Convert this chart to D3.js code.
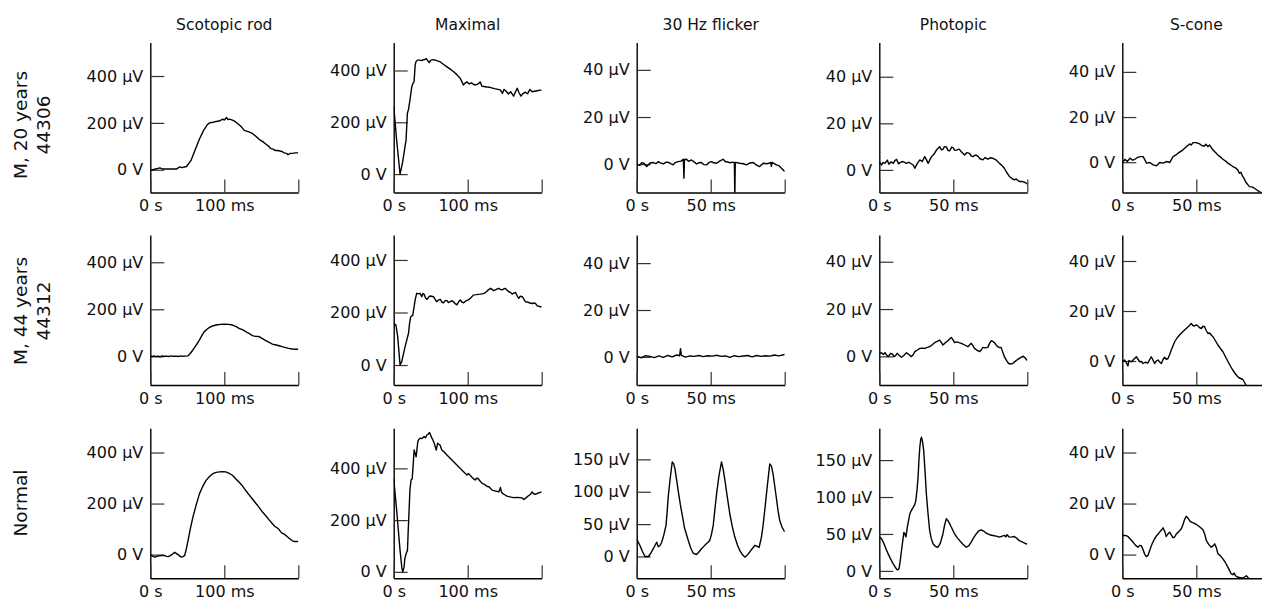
<!DOCTYPE html>
<html>
  <head>
    <meta charset="utf-8">
    <title>ERG traces</title>
    <script src="https://cdn.jsdelivr.net/npm/d3@7/dist/d3.min.js"></script>
    <style>
      body { margin: 0; background: #fff; }
      text { font-family: "DejaVu Sans", sans-serif; fill: #111; }
    </style>
  </head>
  <body>
    <svg id="chart" width="1262" height="601"></svg>
    <script>
      // column titles / row labels
      var colTitles = ["Scotopic rod", "Maximal", "30 Hz flicker", "Photopic", "S-cone"];
      var rowLabels = [["M, 20 years", "44306"], ["M, 44 years", "44312"], ["Normal"]];

      // time axis (ms) per column
      var xMax = [200, 200, 100, 100, 100];
      var xTicks = [[0, 100, 200], [0, 100, 200], [0, 50, 100], [0, 50, 100], [0, 50, 100]];
      var xTickLabels = [["0 s", "100 ms", ""], ["0 s", "100 ms", ""], ["0 s", "50 ms", ""], ["0 s", "50 ms", ""], ["0 s", "50 ms", ""]];

      // voltage ticks (µV) per row, per column
      var yTicks = [
        [[0, 200, 400], [0, 200, 400], [0, 20, 40], [0, 20, 40], [0, 20, 40]],
        [[0, 200, 400], [0, 200, 400], [0, 20, 40], [0, 20, 40], [0, 20, 40]],
        [[0, 200, 400], [0, 200, 400], [0, 50, 100, 150], [0, 50, 100, 150], [0, 20, 40]]
      ];
      // y range (µV) of each panel
      var yDomains = [
        [[-97, 543], [-71, 508], [-12, 51.6], [-9.7, 54.7], [-13.4, 53]],
        [[-122, 516], [-76, 495], [-12, 52], [-12.1, 51.3], [-9.6, 50.4]],
        [[-93, 495], [-25, 555], [-33.7, 198], [-10, 193], [-9.3, 49.5]]
      ];

      // traces: [ms, µV]
      var scotopicA = [[0,-3],[6,2],[13,8],[17,3],[22,3],[30,3],[35,3],[40,12],[43,9],[46,12],[49,14],[55,40],[60,80],[66,128],[72,168],[77,192],[80,200],[85,203],[89,206],[93,208],[98,216],[100,212],[103,223],[105,214],[107,216],[111,212],[115,205],[120,192],[124,180],[127,168],[133,162],[138,155],[143,142],[147,130],[152,120],[156,110],[160,100],[163,90],[166,88],[169,82],[172,82],[175,80],[178,78],[181,72],[184,70],[186,64],[189,70],[192,70],[196,72],[200,72]];
      var maximalA = [[0,263],[4,130],[8.6,0],[12,45],[16.7,132],[18.5,235],[20,250],[22,286],[24.4,337],[26,350],[27.5,356],[29,420],[30,433],[32,440],[35,440],[38,438],[40,442],[42,442],[44,446],[46,438],[48,430],[50,440],[54,442],[58,438],[63,433],[68,422],[72,414],[77,404],[81,395],[86,382],[90,369],[93,352],[94,344],[96,350],[99,356],[102,348],[105,352],[108,346],[111,344],[114,348],[117,356],[119,340],[122,338],[126,336],[130,335],[136,330],[141,327],[144,325],[147,312],[149,327],[152,320],[155,309],[158,318],[162,301],[165,320],[167,331],[169,316],[172,301],[175,312],[178,316],[181,310],[184,327],[187,318],[190,320],[194,322],[198,324],[200,324]];
      var flickerA = [[0,0],[2,-0.5],[3.4,0.7],[5,0.3],[6.7,-1],[9,0.5],[11.2,0.7],[13,0.2],[14.6,1.1],[16,0.6],[18,0.1],[20,0.9],[21.3,0.8],[23,0.2],[24.7,-0.3],[26,0.7],[28,1.1],[30,1.3],[31.5,2.1],[31.9,-6],[32.3,2],[33.7,2.1],[35,1.2],[37,1.8],[39,0.9],[40.4,0.1],[42,0.6],[43.8,0.7],[45.5,-0.2],[47.2,-0.3],[49,0.8],[50.6,1.1],[52,0.6],[54,0.4],[56,1.3],[58.4,2.1],[60,1],[60.7,1.1],[63,0.6],[65,0.9],[66,0.6],[66.3,-14],[66.6,0.8],[68,0.6],[69.7,0.4],[72,0.2],[74.2,-0.3],[76,0.4],[78.7,0.7],[81,-0.4],[83.1,-1],[85.4,0.4],[88,0.2],[90.5,0.7],[91,-0.9],[91.5,0.8],[94.4,-0.3],[96,-0.6],[97.8,-1.7],[100,-3.1]];
      var photopicA = [[0,3.5],[1.6,2.1],[2.5,3.2],[3.8,2.8],[5.4,4.2],[6.5,2.4],[8,3.5],[9.4,2.8],[10.5,4],[11.7,4.5],[13,2.6],[13.9,3.1],[16,3.6],[18.4,2.8],[20,3.3],[22.9,2.1],[24,0.7],[25.5,2.6],[27.4,4.3],[29,3.6],[30.7,5.7],[32,4.2],[33,2.8],[35.2,5.6],[37,6.8],[38.6,8.5],[40.8,9.9],[42,8.6],[43,8.8],[44,10],[45.3,9.9],[46.5,8.3],[47.5,8.2],[49,9.8],[49.8,9.6],[51,8.4],[52,8.5],[54,8.9],[55.4,7.8],[57.6,6.4],[59,7.4],[61,7.1],[62,6],[63.2,5.7],[65,6.4],[66.6,5.9],[68,4.8],[70,4.3],[71.5,5.3],[73.3,4.6],[75,5.2],[76.7,5],[78.9,4.3],[81.2,2.8],[83,1.8],[84.5,0.7],[86,-1],[87.9,-2.8],[89.5,-3.6],[91.3,-4.3],[92.5,-3.9],[94.6,-5],[96.9,-5],[98.5,-5.4],[100,-6]];
      var sconeA = [[0,-0.4],[1.8,1.3],[3.4,0.3],[5.2,1.8],[7,0.9],[8.5,1.3],[10,2],[11.9,2.5],[14.1,2.5],[16.4,-0.4],[18.6,-0.1],[20.9,-1.2],[23.1,-1.6],[25.3,-0.1],[27.6,-0.4],[29.8,0.3],[32.1,-0.1],[34.3,2.5],[36,3.1],[37.7,4],[39,4.6],[41,5.5],[43.3,6.9],[45.5,8.1],[46.5,7.6],[47.8,8.7],[50,8.7],[52.2,8.1],[54,7.3],[55.6,7.2],[56.5,8],[57.8,6.9],[59,7.6],[61.2,5.5],[63,4.3],[64.6,3.2],[66,2.5],[68,1.3],[70,0.4],[71.3,-0.4],[73,-1.1],[74.7,-1.9],[76.5,-2.5],[78,-3.4],[79.1,-4.9],[80,-4.4],[81.4,-6.3],[82.5,-7.5],[83.6,-9],[85.9,-10.8],[87.5,-10.9],[89.2,-11.5],[91,-12.3],[92.6,-13],[95,-13.8]];

      var scotopicB = [[0,0],[3,-1],[5,2],[8,-1],[11,1],[13,-2],[16,2],[19,0],[22,1],[25,-1],[28,2],[31,0],[35,1],[38,-1],[41,2],[44,0],[47,1],[51,2],[54,12],[57.6,27],[62,48],[66.5,70],[70,90],[73,105],[77,116],[80,123],[85,130],[89,133],[95,136],[100,137],[106,136],[111,133],[116,126],[120,119],[125,112],[129,105],[133,98],[138,88],[142,85],[147,84],[151,76],[156,67],[160,60],[165,52],[170,48],[174,45],[178,41],[183,37],[187,34],[192,31],[196,30],[200,30]];
      var maximalB = [[0,159],[3,152],[5.4,108],[8.6,0],[10.9,13],[13,40],[15.4,70],[20,121],[21.5,160],[23,184],[25.8,190],[27.5,220],[29,248],[31,273],[33,271],[35.7,273],[38,260],[39.5,272],[41,270],[43,255],[45,250],[47,258],[49,263],[51,262],[53.8,260],[56,250],[58,241],[60.5,248],[63,250],[65,240],[67.4,237],[70,246],[72,245],[74,238],[76.5,241],[79,245],[81,240],[83,234],[85.5,229],[87.5,240],[90,248],[92,240],[94.6,237],[97,243],[99,246],[101,248],[104,255],[108,267],[112,268],[117,270],[121,272],[124,276],[127,284],[130.8,292],[133,288],[135,283],[137.5,286],[140,290],[142,292],[144,288],[146.6,286],[149,290],[151,292],[153,285],[155.6,279],[158,276],[160,270],[162,274],[164.7,276],[167,262],[169,254],[171,262],[173.8,260],[176,250],[178,241],[181,240],[185,235],[188,234],[190,237],[192,233],[194,225],[196,224],[198,222],[200,222]];
      var flickerB = [[0,0.3],[3,-0.4],[6,0.5],[9,0.2],[12,-0.3],[15,0.4],[18,-0.2],[21,0.6],[24,0],[27,0.8],[29,0.5],[29.6,3.5],[30.2,0.6],[33,-0.1],[36,0.4],[39,0.2],[42,0.6],[45,0.1],[48,0.5],[51,0.3],[54,0.7],[57,0.2],[60,0.4],[63,-0.2],[66,0.5],[69,0.1],[72,0.4],[75,0.6],[78,0],[81,0.6],[84,0.2],[87,0.5],[90,0.3],[93,0.8],[96,0.4],[100,1]];
      var photopicB = [[0,1.3],[1.5,1.5],[2.7,0.8],[3.8,1.6],[5,0.5],[6.1,-0.1],[7.6,1.3],[9,0.9],[9.9,-0.1],[11,0.3],[12.1,1.3],[13.5,0.4],[15,-0.4],[16.5,0.4],[18.4,1.5],[20,0.8],[21.7,-0.1],[23,0.8],[24,2],[26,2.8],[27.4,3.4],[29,3.5],[30.7,3.4],[32.5,3.8],[34.1,4.1],[36,5],[37.4,5.8],[39,6.3],[40.8,6.9],[42,5.8],[43,4.8],[44.5,5.7],[46.4,6.6],[47.5,7.4],[48.7,8],[49.8,7],[50.9,5.8],[52.4,6.1],[53.8,5.8],[55,5.6],[56.5,5.2],[58,4.7],[59.9,4.1],[61,4.8],[62.1,5.5],[63.2,4.6],[64.3,3.4],[66,2.6],[67.7,2],[69,2.8],[70,3.8],[71.5,3.6],[73.3,3.8],[74.5,5.5],[75.6,6.6],[76.7,6.3],[77.8,5.8],[79,4.8],[80,4.1],[81.2,3.7],[82.3,3.8],[83.4,1.8],[84.5,-0.1],[86,-1.8],[87.4,-3],[88.8,-3.2],[90.1,-3],[92,-2],[93.5,-1.3],[95.5,-0.5],[97.3,0.1],[98.8,-0.8],[100,-1.8]];
      var sconeB = [[0,-0.3],[1.6,0.4],[2.5,-0.5],[3.8,-2],[4.5,0.2],[6.1,-0.3],[8,0.8],[9.5,1.7],[10.6,0.7],[11.7,-0.3],[13,-0.2],[14,-1],[15.5,-0.5],[17.3,-0.8],[18.5,0.6],[19.6,1.7],[20.7,0.4],[21.8,-1],[23,0],[24.1,0.4],[25.3,-0.4],[26.4,-1],[27.5,0.6],[28.6,1.5],[29.7,0.7],[30.9,1],[32,2.6],[33.1,4.4],[35.4,7.7],[37,9.2],[38.7,10.4],[41,11.8],[43.2,13],[45,14],[46.6,15],[47.7,14.2],[48.9,14],[50,14.5],[51.1,14],[52.3,13.3],[53.4,13],[54.5,13.9],[55.6,13.7],[56.7,12.2],[57.9,11],[59,11.2],[60.2,10.3],[61.3,9.7],[63,8],[64.6,6.4],[66.3,5],[68,3.7],[69.2,2.3],[70.3,1],[71.6,-0.4],[73,-2],[74.5,-3.5],[75.9,-4.7],[77.3,-5.8],[78.8,-6.7],[80,-7],[81.5,-7.4],[82.4,-8.4],[83.3,-9.4],[85,-11]];

      var scotopicC = [[0,0],[3,-6],[6,-10],[9,-7],[13,-4],[16,-3],[19.6,-4],[22,-7],[24,-8],[27,-4],[30,2],[33,9],[35,5],[37.5,0],[40,-6],[42,-10],[44,-8],[46.4,-4],[48.5,20],[51,55],[54,100],[57.6,147],[62,195],[66.5,239],[71,268],[75.4,291],[80,306],[84.4,317],[89,322],[93.3,324],[98,325],[102,324],[106,319],[111,311],[115,298],[120,284],[124,271],[129,251],[133,236],[138,218],[142,203],[147,185],[151,169],[155.8,153],[160,138],[165,121],[168,111],[171.4,105],[174,98],[176,90],[178,84],[181,80],[184.8,71],[188,63],[191.5,55],[195,51],[200,51]];
      var maximalC = [[0,361],[4,238],[8.6,83],[10.9,18],[12.2,0],[14,18],[15,50],[16.7,70],[18.6,83],[19.5,150],[20.8,238],[22,320],[23.5,355],[25,360],[26,400],[27.6,471],[29,458],[30.3,445],[32.6,504],[34,512],[35.7,517],[38,515],[41,523],[43,518],[44.8,529],[46.5,532],[48.4,539],[50,528],[51.6,517],[53,510],[54.8,497],[56,485],[57.5,471],[59.3,497],[61,493],[62.5,491],[65,471],[68,464],[71.9,452],[76,440],[81,426],[85,414],[90,400],[94,388],[99,374],[101,380],[103,374],[106,365],[110,355],[112,362],[114,361],[117,350],[119.5,342],[122,339],[126,331],[129,328],[133,316],[137,313],[142,309],[144.3,326],[145.5,310],[147,303],[150,298],[153,293],[157,290],[162,287],[166,288],[171.5,287],[174,285],[176,280],[179,287],[183,296],[185,300],[187,309],[189,302],[192,300],[194,303],[197,306],[200,309]];
      var flickerC = [[0,27],[2.2,17],[3.8,8],[5.6,0],[7.9,0],[9.5,5],[11.2,12],[13.5,22],[14.6,15],[15.8,17],[16.9,22],[18.4,34],[19.8,48],[20.6,70],[21.3,92],[22.6,120],[24,146],[25,143],[25.8,136],[27,118],[28,102],[29.5,80],[31,61],[32.3,44],[33.5,35],[34.8,25],[36.5,13],[38.2,5],[40.4,3],[42,7],[43.8,12],[45.5,16],[47.2,20],[48.3,22],[49.4,25],[50.5,34],[51.7,48],[52.8,72],[54,97],[55.6,125],[57.3,146],[58.4,135],[59.6,118],[61.2,92],[62.9,66],[64.6,46],[66.3,30],[68,18],[69.7,9],[71.4,3],[73,-1],[74.7,2],[76.4,7],[78,12],[79.8,17],[81.2,16],[82.7,14],[83.5,22],[84.3,30],[85.4,48],[86.5,71],[88.2,108],[89.9,143],[91,140],[92.1,128],[93.8,100],[95.5,71],[96.6,56],[97.8,48],[98.5,44],[99.3,41],[100,38]];
      var photopicC = [[0,46.6],[1.3,44],[2.7,39],[4.3,31],[6,23],[7.7,16],[9.4,9.5],[10.8,5],[12.1,1.4],[13,2],[13.5,5],[14.3,16],[15,27.6],[15.8,40],[16.6,52],[17.3,50],[18,46],[19,60],[20.6,77],[21.7,82],[22.9,86],[24,90],[24.7,95.5],[25.5,110],[26.2,127],[26.8,150],[27.4,168],[28,178],[28.5,181],[29.2,175],[30,163],[30.9,135],[31.8,104.5],[32.9,78],[34,55],[35.1,44],[36.3,36.7],[38,33],[39.7,32],[41.3,38],[43,50],[44.1,62],[45.3,70.6],[46.4,68],[47.5,64],[49.2,57],[50.9,50],[52.6,45],[54.3,41],[56.5,36],[58.7,32],[60.4,34],[62.1,39],[63.8,45],[65.5,50],[67.1,54],[68.8,55.7],[70.5,54],[72.2,51],[74.5,49],[76.7,48],[79,47],[81.2,45.7],[83,47],[84.7,48],[85.5,46],[86.3,49],[87.9,45.7],[89.5,46],[91.2,46.6],[93,44],[94.6,41],[96.9,39],[99.1,36.7],[100,36.5]];
      var sconeC = [[0,7.5],[2,7.5],[3.8,7.1],[5.5,6],[7.2,4.9],[9,3.6],[10.6,2.9],[11.7,3.6],[12.8,3.5],[14,2],[15,0.3],[16.2,-0.8],[17.4,-0.3],[18.5,1.6],[20,4],[21.8,6.2],[23.5,7.6],[25.2,8.8],[26.3,9.5],[27.5,10.5],[28.6,9.2],[29.7,7.1],[31,8.2],[32,8.8],[33,7.8],[34.2,6.6],[35.4,6.9],[36.5,8.1],[38,8.9],[39.9,10.1],[41,11.8],[42,13.6],[43.2,15],[44.3,14.3],[45.4,13.4],[46.6,12.7],[48.8,12.2],[51.1,11.4],[52.8,10.6],[54.5,9.7],[55.6,8.2],[56.8,5.5],[58.5,3.9],[60.1,2.9],[61.3,3.4],[62.4,4.2],[63.5,2.8],[64.6,0.3],[66.3,-0.5],[68,-1.7],[69.7,-3.2],[71.4,-5],[72.5,-6.3],[73.6,-7.6],[74.7,-7.9],[75.6,-7.2],[76.5,-8.3],[78.2,-8.9],[80,-9.1],[81.5,-9.2],[82.6,-8.8],[83.8,-8.3],[84.9,-9],[86,-9.6],[88,-10],[90,-11]];

      var traces = [
        [scotopicA, maximalA, flickerA, photopicA, sconeA],
        [scotopicB, maximalB, flickerB, photopicB, sconeB],
        [scotopicC, maximalC, flickerC, photopicC, sconeC]
      ];

      // layout
      var W = 148, H = 150;
      var colX = [150.3, 393.7, 636.7, 879.3, 1122.3];
      var rowY = [42.5, 235, 428.3];
      var rowLabelY = [125, 311, 503];

      var svg = d3.select("#chart");

      colTitles.forEach(function(t, ci) {
        svg.append("text")
          .attr("x", colX[ci] + W / 2)
          .attr("y", 29.5)
          .attr("text-anchor", "middle")
          .style("font-size", "15.5px")
          .text(t);
      });

      rowLabels.forEach(function(lines, ri) {
        var t = svg.append("text")
          .attr("transform", "translate(26.5," + rowLabelY[ri] + ") rotate(-90)")
          .attr("text-anchor", "middle")
          .style("font-size", "18.5px");
        lines.forEach(function(l, i) {
          t.append("tspan").attr("x", 0).attr("dy", i == 0 ? 0 : 23.5).text(l);
        });
      });

      var fmtV = function(d) { return d === 0 ? "0 V" : d + " \u00b5V"; };

      traces.forEach(function(row, ri) {
        row.forEach(function(data, ci) {
          var g = svg.append("g").attr("transform", "translate(" + colX[ci] + "," + rowY[ri] + ")");
          var x = d3.scaleLinear().domain([0, xMax[ci]]).range([0, W]);
          var y = d3.scaleLinear().domain(yDomains[ri][ci]).range([H, 0]);

          var clipId = "clip-" + ri + "-" + ci;
          g.append("clipPath").attr("id", clipId)
            .append("rect").attr("x", 0).attr("y", 0).attr("width", W).attr("height", H);

          var yAxis = g.append("g")
            .call(d3.axisLeft(y).tickValues(yTicks[ri][ci]).tickFormat(fmtV)
              .tickSizeInner(-14).tickSizeOuter(0).tickPadding(7));

          var xAxis = g.append("g").attr("transform", "translate(0," + H + ")")
            .call(d3.axisBottom(x).tickValues(xTicks[ci])
              .tickFormat(function(d, i) { return xTickLabels[ci][i]; })
              .tickSizeInner(-13).tickSizeOuter(0).tickPadding(7.5));

          [yAxis, xAxis].forEach(function(a) {
            a.selectAll("text").style("font-size", "16px").style("font-family", "'DejaVu Sans', sans-serif").attr("fill", "#111");
            a.select(".domain").attr("stroke", "#000").attr("stroke-width", 1.4);
            a.selectAll(".tick line").attr("stroke", "#333").attr("stroke-width", 1.2);
          });

          var line = d3.line()
            .x(function(d) { return x(d[0]); })
            .y(function(d) { return y(d[1]); });

          g.append("path")
            .attr("clip-path", "url(#" + clipId + ")")
            .attr("d", line(data))
            .attr("fill", "none")
            .attr("stroke", "#000")
            .attr("stroke-width", 1.4)
            .attr("stroke-linejoin", "round");
        });
      });
    </script>
  </body>
</html>
